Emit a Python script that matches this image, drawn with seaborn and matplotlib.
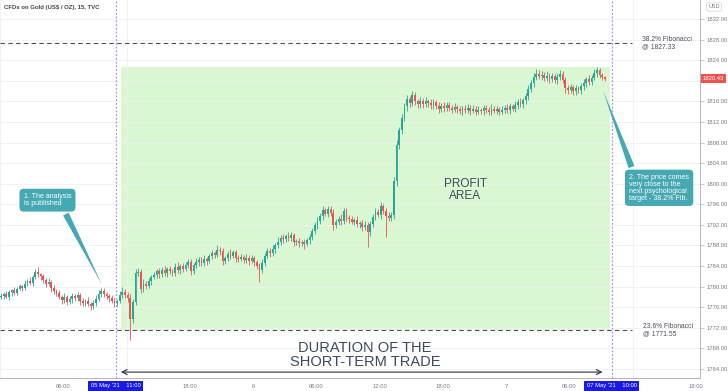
# %%
# Gold CFD 15 min - profit area chart
import numpy as np
import pandas as pd
import matplotlib
matplotlib.use("Agg")
import matplotlib.pyplot as plt
import seaborn as sns

# %%
# dane - zamkniecia swiec 15 min
closes = [
    1778.2, 1778.6, 1778.0, 1778.9, 1779.3, 1778.8, 1779.6, 1780.1, 1779.7, 1780.6,
    1781.0, 1780.7, 1781.8, 1782.9, 1782.4, 1782.0, 1781.2, 1780.6, 1780.9, 1779.8,
    1779.2, 1778.7, 1778.0, 1777.4, 1777.9, 1777.1, 1777.6, 1778.2, 1777.8, 1778.3,
    1777.2, 1776.8, 1777.3, 1776.6, 1776.2, 1776.9, 1777.6, 1778.5, 1779.2, 1778.6,
    1778.1, 1777.7, 1777.3, 1776.8, 1777.2, 1778.4, 1779.0, 1778.3, 1777.8, 1773.8,
    1777.0, 1782.6, 1782.9, 1779.6, 1780.6, 1780.2, 1781.0, 1781.8, 1782.2, 1783.0,
    1782.4, 1783.3, 1782.6, 1783.4, 1783.0, 1782.7, 1783.8, 1783.2, 1784.0, 1783.5,
    1784.3, 1784.7, 1783.0, 1784.2, 1784.8, 1785.2, 1784.6, 1785.4, 1785.0, 1785.9,
    1786.6, 1786.2, 1787.2, 1786.9, 1784.9, 1785.6, 1786.4, 1786.0, 1786.7, 1785.6,
    1785.4, 1785.8, 1785.2, 1785.6, 1785.0, 1785.5, 1784.7, 1784.0, 1783.3, 1784.6,
    1786.0, 1786.9, 1786.5, 1787.3, 1788.0, 1788.7, 1789.5, 1789.2, 1789.8, 1789.5,
    1790.0, 1788.6, 1788.8, 1788.4, 1788.6, 1788.3, 1789.0, 1789.7, 1790.8, 1791.9,
    1792.8, 1793.8, 1794.8, 1794.2, 1795.0, 1794.3, 1792.0, 1792.6, 1793.2, 1792.8,
    1794.6, 1793.4, 1793.1, 1792.6, 1793.0, 1792.1, 1792.3, 1791.6, 1792.0, 1790.6,
    1792.2, 1793.6, 1794.5, 1794.0, 1795.6, 1794.7, 1793.8, 1793.4, 1794.0, 1800.5,
    1807.5, 1810.4, 1812.8, 1815.0, 1816.4, 1815.6, 1817.2, 1816.0, 1815.4, 1816.1,
    1815.4, 1816.0, 1815.7, 1815.2, 1815.8, 1815.1, 1814.6, 1815.0, 1814.7, 1815.3,
    1814.8, 1814.4, 1814.9, 1814.5, 1814.1, 1814.6, 1814.3, 1814.8, 1814.2, 1814.6,
    1814.0, 1814.4, 1814.1, 1814.7, 1814.3, 1814.0, 1814.6, 1814.2, 1814.5, 1814.0,
    1814.4, 1814.8, 1814.3, 1815.0, 1814.6, 1815.3, 1815.8, 1815.4, 1816.2, 1817.0,
    1818.4, 1819.6, 1820.8, 1821.4, 1820.9, 1821.2, 1820.6, 1821.0, 1820.4, 1820.9,
    1820.2, 1820.8, 1821.3, 1820.1, 1818.6, 1818.2, 1818.7, 1818.0, 1818.5, 1818.2,
    1818.9, 1819.6, 1820.3, 1819.8, 1820.6, 1821.5, 1822.0, 1821.2, 1820.7, 1820.43,
]
first_open = 1778.0

# dlugosc knotow (gorny / dolny) w USD
wick_hi = [
    0.5, 0.3, 0.6, 0.4, 0.3, 0.7, 0.4, 0.5, 0.3, 0.6,
    0.4, 0.8, 0.5, 0.6, 0.9, 0.3, 0.5, 0.4, 0.7, 0.3,
    0.5, 0.4, 0.6, 0.3, 0.8, 0.4, 0.5, 0.6, 0.3, 0.7,
    0.4, 0.5, 0.3, 0.6, 0.4, 0.5, 0.7, 0.8, 0.6, 0.5,
    0.3, 0.4, 0.6, 0.5, 0.4, 0.7, 0.9, 0.5, 0.6, 0.8,
    0.6, 0.9, 0.7, 0.5, 0.8, 0.4, 0.6, 0.5, 0.7, 0.4,
    0.6, 0.5, 0.8, 0.4, 0.6, 0.5, 0.7, 0.9, 0.4, 0.6,
    0.5, 0.7, 0.6, 0.4, 0.8, 0.5, 0.6, 0.7, 0.4, 0.5,
    0.6, 0.4, 0.8, 0.5, 0.7, 0.4, 0.6, 0.9, 0.5, 0.4,
    0.6, 0.5, 0.4, 0.7, 0.5, 0.6, 0.4, 0.5, 0.6, 0.8,
    0.5, 0.7, 0.6, 0.8, 0.5, 0.9, 0.6, 0.7, 0.5, 0.8,
    0.6, 0.5, 0.4, 0.7, 0.5, 0.6, 0.4, 0.5, 0.6, 0.7,
    0.8, 0.6, 0.9, 0.5, 0.7, 0.6, 0.8, 0.5, 0.6, 0.9,
    0.6, 0.7, 0.5, 0.6, 0.4, 0.8, 0.5, 0.6, 0.7, 0.5,
    0.6, 0.5, 0.7, 0.6, 0.8, 0.5, 0.6, 0.7, 0.5, 0.8,
    0.9, 0.7, 0.8, 0.6, 0.9, 0.7, 0.8, 0.6, 0.5, 0.7,
    0.6, 0.8, 0.5, 0.7, 0.6, 0.5, 0.7, 0.6, 0.8, 0.5,
    0.6, 0.5, 0.7, 0.4, 0.6, 0.5, 0.7, 0.6, 0.4, 0.6,
    0.5, 0.7, 0.4, 0.6, 0.5, 0.6, 0.8, 0.5, 0.6, 0.4,
    0.6, 0.5, 0.7, 0.6, 0.5, 0.7, 0.6, 0.8, 0.5, 0.7,
    0.8, 0.6, 0.7, 0.9, 0.6, 0.7, 0.5, 0.8, 0.6, 0.7,
    0.5, 0.7, 0.8, 0.6, 0.7, 0.5, 0.6, 0.4, 0.7, 0.5,
    0.6, 0.7, 0.5, 0.8, 0.6, 0.7, 0.6, 0.5, 0.4, 0.3,
]
wick_lo = [
    0.4, 0.6, 0.3, 0.5, 0.7, 0.4, 0.5, 0.3, 0.6, 0.4,
    0.5, 0.4, 0.6, 0.3, 0.5, 0.7, 0.4, 0.6, 0.5, 0.8,
    0.6, 0.5, 0.4, 0.7, 0.5, 0.6, 0.4, 0.8, 0.5, 0.6,
    0.7, 0.5, 0.6, 0.4, 0.8, 0.5, 0.6, 0.4, 0.5, 0.7,
    0.5, 0.6, 0.4, 0.7, 0.5, 0.4, 0.6, 0.5, 0.7, 4.1,
    0.9, 0.6, 0.5, 0.8, 0.6, 0.7, 0.5, 0.6, 0.4, 0.6,
    0.7, 0.5, 0.6, 0.8, 0.5, 0.7, 0.6, 0.5, 0.7, 0.6,
    0.5, 0.6, 0.8, 0.5, 0.6, 0.7, 0.5, 0.6, 0.8, 0.5,
    0.6, 0.7, 0.5, 0.8, 0.6, 0.5, 0.7, 0.6, 0.5, 0.8,
    0.6, 0.5, 0.7, 0.6, 0.8, 0.5, 0.7, 0.6, 2.4, 0.7,
    0.6, 0.5, 0.8, 0.6, 0.7, 0.5, 0.6, 0.8, 0.5, 0.7,
    0.6, 0.8, 0.5, 0.7, 0.6, 0.9, 0.5, 0.7, 0.6, 0.5,
    0.7, 0.6, 0.8, 0.5, 0.7, 0.6, 0.9, 0.7, 0.6, 0.8,
    0.7, 0.6, 0.8, 0.5, 0.7, 0.6, 0.8, 0.7, 0.6, 2.9,
    0.8, 0.6, 0.7, 0.5, 0.8, 0.6, 4.1, 0.7, 0.6, 0.8,
    0.9, 0.7, 0.8, 0.6, 0.9, 0.7, 0.6, 0.8, 0.7, 0.6,
    0.7, 0.5, 0.8, 0.6, 0.7, 0.5, 0.8, 0.6, 0.7, 0.5,
    0.6, 0.7, 0.5, 0.8, 0.6, 0.7, 0.5, 0.6, 0.8, 0.5,
    0.7, 0.5, 0.6, 0.8, 0.5, 0.7, 0.6, 0.5, 0.7, 0.6,
    0.5, 0.7, 0.6, 0.8, 0.5, 0.6, 0.7, 0.5, 0.6, 0.8,
    0.7, 0.6, 0.8, 0.7, 0.6, 0.8, 0.7, 0.6, 0.8, 0.7,
    0.6, 0.8, 0.7, 0.6, 0.9, 0.7, 0.6, 0.8, 0.7, 0.6,
    0.7, 0.6, 0.8, 0.7, 0.6, 0.5, 0.7, 0.6, 0.5, 0.4,
]

# os czasu: godziny od 5 maja 00:00, swiece co 15 min
bar_step = 0.25
first_bar_hour = 0.1

tick_hours = [6, 18, 24, 30, 36, 42, 48, 54, 66]
tick_labels = ['06:00', '18:00', '6', '06:00', '12:00', '18:00', '7', '06:00', '18:00']
grid_hours = [0, 6, 12, 18, 24, 30, 36, 42, 48, 54, 60, 66]
price_ticks = list(range(1764, 1833, 4))

fib_382 = 1827.33
fib_236 = 1771.55
trade_start = 11.0   # 05 May '21 11:00
trade_end = 58.0     # 07 May '21 10:00
profit_top = 1822.7
last_price = 1820.43

# %%
# ramka danych OHLC
df = pd.DataFrame({'close': closes})
df['open'] = [first_open] + closes[:-1]
df['high'] = df[['open', 'close']].max(axis=1) + wick_hi
df['low'] = df[['open', 'close']].min(axis=1) - wick_lo
df['hour'] = first_bar_hour + np.arange(len(df)) * bar_step
df['up'] = df['close'] >= df['open']

# kolory
green = '#26a69a'
red = '#ef5350'
grey_txt = '#787b86'
teal_box = '#45a8b3'

# %%
sns.set_theme(style='white')
plt.rcParams['font.family'] = ['Liberation Sans', 'DejaVu Sans']

fig = plt.figure(figsize=(7.28, 3.91), dpi=100)
ax = fig.add_axes([0, 13 / 391, 700 / 728, 378 / 391])

ax.set_xlim(0.03, 66.38)
ax.set_ylim(1762.25, 1835.69)

# siatka
ax.set_axisbelow(True)
ax.set_xticks(grid_hours, minor=True)
ax.set_yticks(price_ticks)
ax.grid(which='minor', axis='x', color='#eef0f5', lw=0.6)
ax.grid(which='major', axis='y', color='#eef0f5', lw=0.6)

# strefa zysku
ax.fill_between([trade_start + 0.5, trade_end - 0.2], fib_236, profit_top,
                color='#9cee88', alpha=0.38, lw=0, zorder=0.5)

# poziomy Fibonacciego
for lvl in [fib_382, fib_236]:
    ax.hlines(lvl, 0, 59.9, colors='#505050', lw=0.8, linestyles=(0, (4, 3)), zorder=1.5)
ax.text(60.9, fib_382, '38.2% Fibonacci\n@ 1827.33', fontsize=4.9, color='#4a4f5c',
        va='center', ha='left', linespacing=1.0)
ax.text(61.0, fib_236, '23.6% Fibonacci\n@ 1771.55', fontsize=4.9, color='#4a4f5c',
        va='center', ha='left', linespacing=1.0)

# pionowe linie czasu
for h in [trade_start, trade_end]:
    ax.axvline(h, color='#9a9de6', lw=0.9, ls=(0, (1.5, 1.5)), zorder=1.6)

# swiece
colors_c = np.where(df['up'], green, red)
ax.vlines(df['hour'], df['low'], df['high'], colors=colors_c, lw=0.6, zorder=2)
body_bottom = df[['open', 'close']].min(axis=1)
body_h = (df['close'] - df['open']).abs().clip(lower=0.12)
ax.bar(df['hour'], body_h, bottom=body_bottom, width=0.17, color=colors_c, lw=0, zorder=2.2)

# strzalka - czas trwania
ax.annotate('', xy=(57.4, 1763.4), xytext=(11.2, 1763.4),
            arrowprops=dict(arrowstyle='<->', color='#2a2e39', lw=0.8, mutation_scale=9))
ax.text(34.6, 1766.7, 'DURATION OF THE\nSHORT-TERM TRADE', fontsize=10.5, color='#3d4a5c',
        ha='center', va='center', linespacing=1.05)
ax.text(44.1, 1798.8, 'PROFIT\nAREA', fontsize=8.5, color='#3d4a5c',
        ha='center', va='center', linespacing=1.05)

# dymki
ax.annotate('1. The analysis\nis published', xy=(9.79, 1779.9), xytext=(4.5, 1796.8),
            fontsize=5, color='white', ha='center', va='center', linespacing=1.1, multialignment='left',
            bbox=dict(boxstyle='round,pad=0.6,rounding_size=0.6', fc=teal_box, ec='none'),
            arrowprops=dict(arrowstyle='wedge,tail_width=0.9', fc=teal_box, ec='none',
                            relpos=(0.8, 0.1)))
ax.annotate('2. The price comes\nvery close to the\nnext psychological\ntarget - 38.2% Fib.',
            xy=(57.1, 1818.6), xytext=(62.5, 1799.2),
            fontsize=5, color='white', ha='center', va='center', linespacing=1.0, multialignment='left',
            bbox=dict(boxstyle='round,pad=0.6,rounding_size=0.6', fc=teal_box, ec='none'),
            arrowprops=dict(arrowstyle='wedge,tail_width=0.9', fc=teal_box, ec='none',
                            relpos=(0.1, 0.9)))

# osie - etykieta 1820 schowana pod biezaca cena
ax.yaxis.tick_right()
ax.set_yticklabels(['' if p == 1820 else f'{p:.2f}' for p in price_ticks])
ax.set_xticks(tick_hours)
ax.set_xticklabels(tick_labels)
ax.tick_params(axis='both', labelsize=4.2, labelcolor=grey_txt, color='#b2b5be',
               length=3, width=0.5, pad=1.5)
ax.tick_params(axis='x', which='minor', length=0)
for s in ['top', 'left']:
    ax.spines[s].set_visible(False)
for s in ['right', 'bottom']:
    ax.spines[s].set_color('#b2b5be')
    ax.spines[s].set_linewidth(0.7)

# etykiety dat na osi x
for h, lab in [(trade_start, "05 May '21    11:00"), (trade_end, "07 May '21    10:00")]:
    ax.annotate(lab, xy=(h, 0), xycoords=('data', 'axes fraction'), xytext=(0, -5.5),
                textcoords='offset points', fontsize=4.2, color='white', ha='center', va='center',
                bbox=dict(boxstyle='square,pad=0.45', fc='#1a1ae6', ec='none'), annotation_clip=False)

# ostatnia cena
ax.annotate(f'{last_price:.2f}', xy=(1, last_price), xycoords=('axes fraction', 'data'),
            xytext=(2, 0), textcoords='offset points', fontsize=4.2, color='white',
            ha='left', va='center',
            bbox=dict(boxstyle='square,pad=0.35', fc=red, ec='none'), annotation_clip=False)

# tytul i waluta
fig.text(4 / 728, 1 - 7 / 391, 'CFDs on Gold (US$ / OZ), 15, TVC', fontsize=4.3,
         fontweight='bold', color='#434651', ha='left', va='center')
fig.text(714 / 728, 1 - 7 / 391, 'USD', fontsize=4, color=grey_txt, ha='center', va='center',
         bbox=dict(boxstyle='round,pad=0.3', fc='white', ec='#d1d4dc', lw=0.5))

fig.savefig('out.png', dpi=100)
